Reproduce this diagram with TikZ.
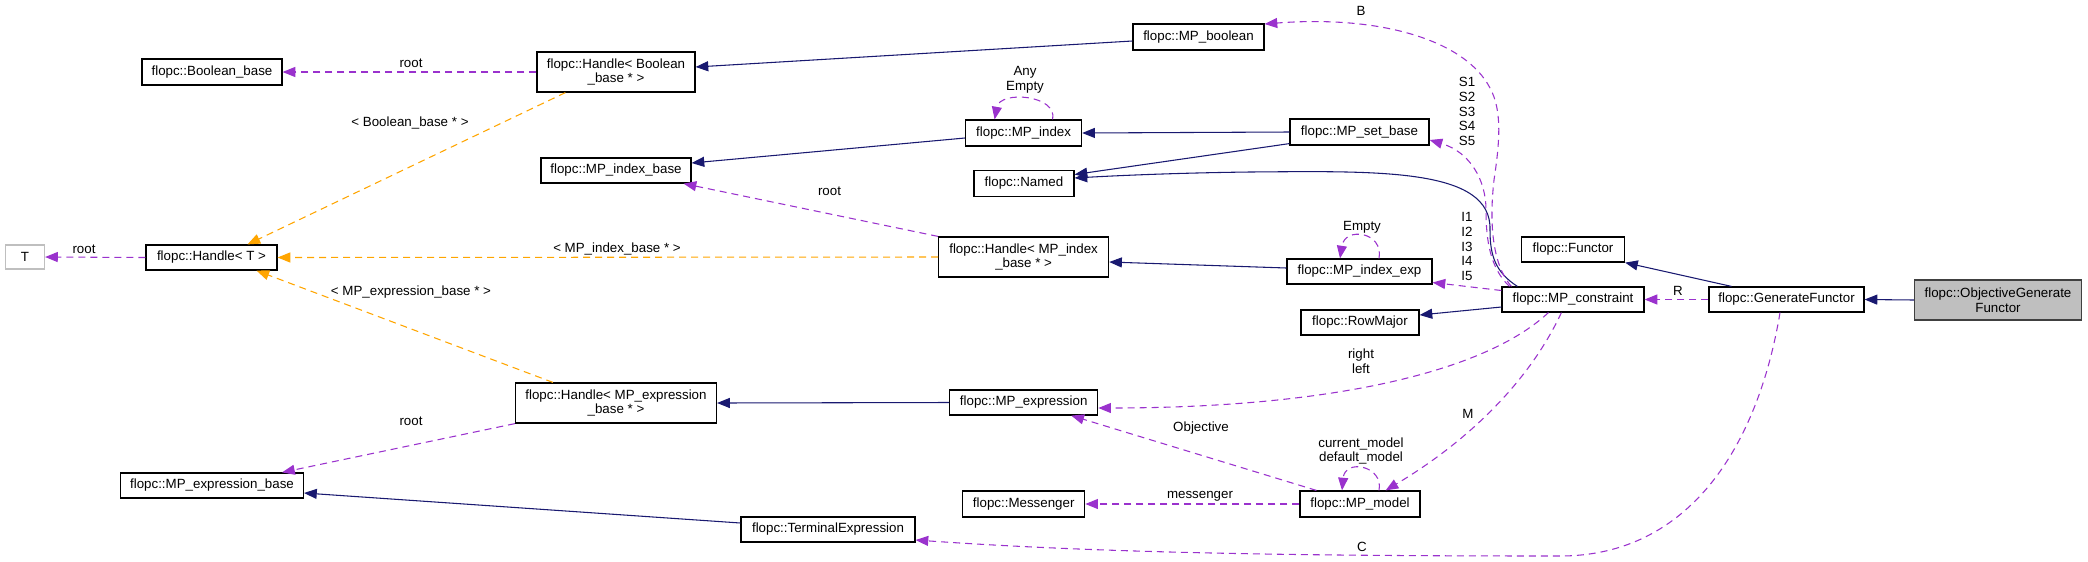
\documentclass[tikz,border=0pt]{standalone}
\usepackage{fontspec}
\setmainfont{Liberation Sans}
\usetikzlibrary{arrows.meta,calc}
\definecolor{navy}{HTML}{191970}
\definecolor{orch}{HTML}{9A32CD}
\definecolor{orng}{HTML}{FFA500}
\definecolor{gbox}{HTML}{BFBFBF}
\definecolor{dgray}{HTML}{404040}
\begin{document}
\begin{tikzpicture}[x=0.75bp,y=-0.75bp,
  every node/.style={font=\fontsize{10bp}{11bp}\selectfont},
  cls/.style={draw=black, line width=0.9bp, inner sep=0pt, align=center, fill=white},
  bw/.style={minimum width={#1*0.75bp}},
  bh/.style={minimum height={#1*0.75bp}},
  tip/.style={-{Triangle[length=9.5bp,width=7.5bp]}},
  inh/.style={draw=navy, line width=0.8bp, tip},
  use/.style={draw=orch, line width=0.8bp, dash pattern=on 5.25bp off 3.75bp, tip},
  tpl/.style={draw=orng, line width=0.8bp, dash pattern=on 5.25bp off 3.75bp, tip},
  lbl/.style={inner sep=0pt, align=center}
]
\useasboundingbox (0,0) rectangle (2088,561);
% classes
\node[cls, draw=gbox, bw=39, bh=24] (T) at (25,257) {T};
\node[cls, bw=131, bh=25] (HT) at (211.5,257.5) {flopc::Handle< T >};
\node[cls, bw=140, bh=26] (BB) at (212,72) {flopc::Boolean\_base};
\node[cls, bw=158, bh=40] (HB) at (616,72) {flopc::Handle< Boolean\\\_base * >};
\node[cls, bw=150, bh=25] (MIB) at (616,170.5) {flopc::MP\_index\_base};
\node[cls, bw=201, bh=40] (HE) at (616,403) {flopc::Handle< MP\_expression\\\_base * >};
\node[cls, bw=183, bh=25] (MEB) at (212,485.5) {flopc::MP\_expression\_base};
\node[cls, bw=131, bh=26] (MPB) at (1198.5,37) {flopc::MP\_boolean};
\node[cls, bw=116, bh=26] (MI) at (1023.6,133) {flopc::MP\_index};
\node[cls, bw=100, bh=26] (NM) at (1024,183.5) {flopc::Named};
\node[cls, bw=170, bh=40] (HI) at (1023.6,257) {flopc::Handle< MP\_index\\\_base * >};
\node[cls, bw=148, bh=25] (ME) at (1023.7,402.5) {flopc::MP\_expression};
\node[cls, bw=122, bh=26] (MS) at (1023.7,504) {flopc::Messenger};
\node[cls, bw=174, bh=25] (TE) at (828,529.5) {flopc::TerminalExpression};
\node[cls, bw=139, bh=26] (MSB) at (1359.5,132) {flopc::MP\_set\_base};
\node[cls, bw=145, bh=25] (MIE) at (1359.5,271.5) {flopc::MP\_index\_exp};
\node[cls, bw=118, bh=25] (RM) at (1360,322.5) {flopc::RowMajor};
\node[cls, bw=120, bh=26] (MM) at (1360,504) {flopc::MP\_model};
\node[cls, bw=142, bh=25] (MC) at (1573,299.5) {flopc::MP\_constraint};
\node[cls, bw=103, bh=25] (FN) at (1573,249.5) {flopc::Functor};
\node[cls, bw=155, bh=25] (GF) at (1786.5,299.5) {flopc::GenerateFunctor};
\node[cls, draw=dgray, fill=gbox, bw=167, bh=40] (OG) at (1998,300) {flopc::ObjectiveGenerate\\Functor};
% inheritance
\draw[inh] (OG.west) -- (GF.east);
\draw[inh] ($(GF.north)+(-55,0)$) -- (FN.south east);
\draw[inh] ($(MC.west)+(0,7.5)$) -- ($(RM.east)+(0,-7.5)$);
\draw[inh] ($(MC.north west)+(16,0)$) .. controls (1495,272) and (1490,255) .. (1490,230)
  .. controls (1492,168) and (1380,171) .. (1250,172)
  .. controls (1170,173) and (1110,176) .. ($(NM.east)+(0,-5.5)$);
\draw[inh] (MSB.west) -- (MI.east);
\draw[inh] ($(MSB.south west)+(0,-2)$) -- ($(NM.east)+(0,-9)$);
\draw[inh] ($(MI.west)+(0,5)$) -- ($(MIB.east)+(0,-7.5)$);
\draw[inh] ($(MPB.west)+(0,4)$) -- ($(HB.east)+(0,-5)$);
\draw[inh] ($(MIE.west)+(0,-3.5)$) -- ($(HI.east)+(0,5)$);
\draw[inh] (ME.west) -- (HE.east);
\draw[inh] ($(TE.west)+(0,-6.5)$) -- ($(MEB.east)+(0,7.5)$);
% usage
\draw[use] (GF.west) -- (MC.east);
\draw[use] ($(GF.south)+(-6.5,0)$) .. controls (1758,445) and (1690,556) .. (1560,556)
  .. controls (1300,556) and (1100,553) .. ($(TE.east)+(0,10.5)$);
\draw[use] ($(MC.west)+(0,-9)$) -- ($(MIE.east)+(0,11)$);
\draw[use] ($(MC.north west)+(8,0)$) .. controls (1490,268) and (1486,240) .. (1486,210)
  .. controls (1486,180) and (1470,152) .. ($(MSB.east)+(0,8)$);
\draw[use] ($(MC.north west)+(10,0)$) .. controls (1490,262) and (1490,215) .. (1494,180)
  .. controls (1500,140) and (1502,110) .. (1490,88)
  .. controls (1465,40) and (1380,15) .. ($(MPB.east)+(0,-13)$);
\draw[use] ($(MC.south west)+(47,0)$) .. controls (1485,372) and (1330,408) .. ($(ME.east)+(0,5.5)$);
\draw[use] ($(MC.south west)+(60,0)$) .. controls (1530,380) and (1470,440) .. ($(MM.north east)+(-35,0)$);
\draw[use] ($(MM.north west)+(17,0)$) -- ($(ME.south east)+(-27,0)$);
\draw[use] (MM.west) -- (MS.east);
\draw[use] ($(MM.north)+(19,0)$) .. controls (1384,466) and (1345,458) .. ($(MM.north)+(-18,0)$);
\draw[use] ($(MI.north)+(29,0)$) .. controls (1058,95) and (1000,90) .. ($(MI.north)+(-29,0)$);
\draw[use] ($(MIE.north)+(19.5,0)$) .. controls (1384,232) and (1345,226) .. ($(MIE.north)+(-19.5,0)$);
\draw[use] (HI.north west) -- ($(MIB.south east)+(-8,0)$);
\draw[use] (HB.west) -- (BB.east);
\draw[use] (HE.south west) -- ($(MEB.north east)+(-22,0)$);
\draw[use] (HT.west) -- (T.east);
% template instances
\draw[tpl] ($(HB.south west)+(29,0)$) -- ($(HT.north)+(36,0)$);
\draw[tpl] (HI.west) -- (HT.east);
\draw[tpl] ($(HE.north west)+(38,0)$) -- ($(HT.south)+(45,0)$);
% labels
\node[lbl] (lR) at (1678,291) {R};
\node[lbl] (lC) at (1362,547) {C};
\node[lbl] (lI) at (1467,246.5) {I1\\I2\\I3\\I4\\I5};
\node[lbl] (lS) at (1467,111.5) {S1\\S2\\S3\\S4\\S5};
\node[lbl] (lB) at (1361,11) {B};
\node[lbl] (lRL) at (1361,361) {right\\left};
\node[lbl] (lM) at (1468,414) {M};
\node[lbl] (lObj) at (1201,428) {Objective};
\node[lbl] (lMsg) at (1200,496) {messenger};
\node[lbl] (lCD) at (1361,451) {current\_model\\default\_model};
\node[lbl] (lAE) at (1025,80) {Any\\Empty};
\node[lbl] (lE) at (1362,227) {Empty};
\node[lbl] (lr1) at (829.5,191) {root};
\node[lbl] (lr2) at (411,63) {root};
\node[lbl] (lr3) at (411,421) {root};
\node[lbl] (lr4) at (84,249) {root};
\node[lbl] (lbb) at (410,123) {< Boolean\_base * >};
\node[lbl] (lmib) at (617,249) {< MP\_index\_base * >};
\node[lbl] (lmeb) at (411,292) {< MP\_expression\_base * >};
\end{tikzpicture}
\end{document}
